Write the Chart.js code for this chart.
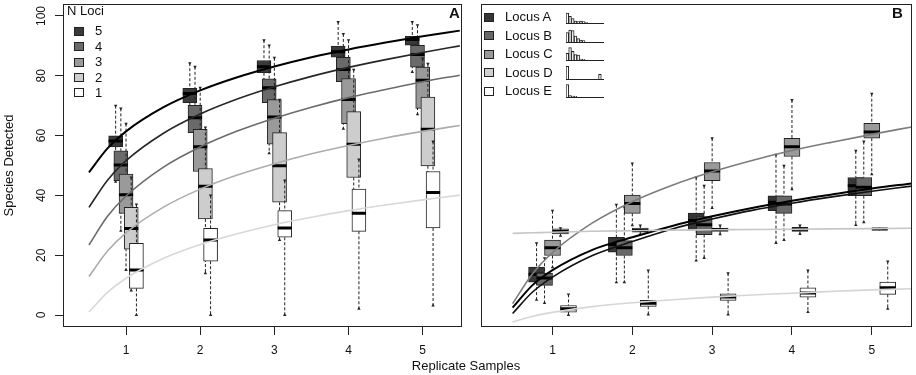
<!DOCTYPE html>
<html>
<head>
<meta charset="utf-8">
<script src="https://cdn.jsdelivr.net/npm/chart.js@4.4.1/dist/chart.umd.min.js"></script>
<style>
  html, body { margin: 0; padding: 0; background: #fff; }
  #wrap { position: relative; width: 916px; height: 375px; overflow: hidden;
          font-family: "Liberation Sans", Arial, Helvetica, sans-serif; color: #111; }
  #wrap canvas { position: absolute; }
  .txt { position: absolute; font-size: 13px; line-height: 14px; white-space: nowrap; }
  .sq { position: absolute; width: 10px; height: 9px; border: 1px solid #222; box-sizing: border-box; }
  .tag { position: absolute; font-size: 15px; font-weight: bold; line-height: 16px; }
</style>
</head>
<body>
<div id="wrap">
  <canvas id="panelA" width="470" height="375" style="left:0;top:0"></canvas>
  <canvas id="panelB" width="446" height="375" style="left:470px;top:0"></canvas>
  <div id="legends"></div>
  <div class="tag" style="left:449px;top:5px">A</div>
  <div class="tag" style="left:892px;top:5px">B</div>
  <div class="txt" style="left:466px;top:359px;transform:translateX(-50%)">Replicate Samples</div>
</div>
<script>
// ---- data ----
const replicates = [1, 2, 3, 4, 5]
const nLoci = ["5", "4", "3", "2", "1"]
const loci = ["Locus A", "Locus B", "Locus C", "Locus D", "Locus E"]

// panel A: one row per N loci (5..1), one value per replicate
const lociMed = [
  [58.2, 74.1, 83.0, 88.0, 92.1],
  [50.2, 66.0, 76.0, 82.1, 87.1],
  [40.2, 56.3, 66.2, 72.1, 78.5],
  [28.9, 43.1, 49.9, 57.1, 62.1],
  [15.1, 25.1, 29.1, 34.0, 41.0],
]
const lociQ1 = [
  [56.2, 71.0, 81.0, 86.2, 90.2],
  [44.9, 61.0, 71.0, 78.0, 82.9],
  [34.0, 48.0, 57.1, 64.0, 69.1],
  [22.0, 32.1, 37.7, 46.0, 49.9],
  [8.9, 18.0, 26.0, 28.0, 29.1],
]
const lociQ3 = [
  [59.9, 75.8, 85.1, 89.9, 93.2],
  [54.9, 70.1, 79.0, 86.2, 90.2],
  [47.1, 62.1, 72.0, 79.1, 82.9],
  [36.0, 49.0, 61.0, 68.0, 72.9],
  [24.0, 29.0, 34.9, 42.1, 48.0],
]
const lociHi = [
  [70.0, 84.2, 91.9, 98.0, 98.0],
  [69.1, 83.0, 90.1, 94.0, 96.9],
  [64.0, 76.0, 86.0, 91.9, 85.8],
  [46.0, 62.7, 72.0, 82.0, 84.0],
  [37.0, 40.0, 45.0, 52.0, 58.0],
]
const lociLo = [
  [44.6, 66.0, 76.0, 82.0, 81.3],
  [28.2, 52.0, 54.1, 62.3, 67.1],
  [15.1, 38.0, 45.0, 48.0, 58.0],
  [8.2, 14.0, 25.1, 30.0, 32.0],
  [0.0, 0.0, 0.0, 2.1, 3.2],
]

// panel B: one row per locus (A..E)
const locusMed = [
  [13.6, 23.6, 31.6, 37.7, 43.2],
  [12.4, 22.5, 30.2, 37.1, 42.7],
  [22.5, 37.3, 48.2, 56.3, 61.2],
  [27.9, 28.3, 28.6, 28.7, 28.8],
  [2.1, 3.9, 6.0, 7.4, 9.1],
]
const locusQ1 = [
  [11.0, 21.0, 28.4, 34.9, 39.9],
  [9.9, 19.9, 26.9, 34.0, 39.9],
  [19.9, 34.0, 44.9, 53.0, 59.1],
  [27.1, 27.7, 28.0, 28.0, 28.8],
  [1.0, 2.9, 4.9, 6.0, 6.9],
]
const locusQ3 = [
  [16.0, 26.0, 34.1, 39.9, 46.0],
  [14.0, 24.9, 32.9, 39.9, 46.0],
  [25.1, 40.1, 51.0, 59.1, 64.1],
  [28.8, 29.1, 29.1, 29.3, 28.8],
  [3.2, 4.9, 7.1, 9.1, 11.0],
]
const locusHi = [
  [24.0, 36.9, 46.0, 53.6, 54.9],
  [19.0, 36.0, 43.2, 49.9, 58.0],
  [34.9, 50.7, 59.1, 71.9, 74.0],
  [29.0, 29.9, 29.9, 29.9, 28.8],
  [6.9, 14.9, 14.0, 14.9, 17.9],
]
const locusLo = [
  [5.1, 11.0, 18.2, 24.1, 30.1],
  [4.0, 11.0, 19.1, 25.1, 31.0],
  [16.0, 30.0, 35.8, 42.1, 47.1],
  [26.5, 27.0, 27.0, 27.1, 28.8],
  [0.0, 0.2, 0.2, 1.0, 2.1],
]

// fitted curves, read at these replicate positions
const curveX = [0.5, 0.75, 1, 1.5, 2, 2.5, 3, 3.5, 4, 4.5, 5, 5.5]
const lociCurve = [
  [47.7, 55.7, 61.4, 69.4, 75.1, 79.5, 83.1, 86.2, 88.8, 91.1, 93.2, 95.1],
  [36.0, 45.1, 51.6, 60.7, 67.2, 72.2, 76.3, 79.8, 82.8, 85.4, 87.8, 90.0],
  [23.4, 33.0, 39.8, 49.4, 56.2, 61.5, 65.8, 69.5, 72.7, 75.4, 78.0, 80.2],
  [12.9, 21.4, 27.5, 36.0, 42.1, 46.8, 50.6, 53.9, 56.7, 59.2, 61.4, 63.4],
  [1.0, 7.6, 12.3, 18.9, 23.6, 27.2, 30.2, 32.7, 34.9, 36.8, 38.5, 40.1],
]
const locusCurve = [
  [2.5, 10.0, 15.0, 21.8, 26.0, 29.8, 33.0, 35.8, 38.2, 40.3, 42.3, 44.0],
  [0.5, 7.7, 12.7, 19.9, 24.6, 28.8, 32.1, 35.0, 37.4, 39.5, 41.4, 43.1],
  [3.8, 13.8, 20.9, 30.8, 37.9, 43.4, 47.9, 51.7, 55.0, 57.8, 60.4, 62.9],
  [27.3, 27.5, 27.7, 28.0, 28.2, 28.4, 28.5, 28.6, 28.7, 28.8, 28.9, 29.0],
  [-2.3, -0.4, 0.9, 2.8, 4.1, 5.1, 6.0, 6.7, 7.3, 7.9, 8.4, 8.8],
]

// little read-count histograms in the panel B legend
const locusHist = [
  [10, 6.7, 4.3, 2, 1.3, 2, 1.3, 0.5, 0, 0, 0, 0, 0, 0],
  [9.3, 12, 11.3, 6, 3.3, 2, 1.3, 0, 0, 0, 0, 0, 0, 0],
  [6.7, 12.3, 8.7, 5.3, 5, 1, 0.7, 0, 0, 0, 0, 0, 0, 0],
  [12.7, 0, 0, 0, 0, 0, 0, 0, 0, 0, 0, 0, 4.7, 0],
  [12.3, 1.3, 1, 0.7, 0, 0, 0, 0, 0, 0, 0, 0, 0, 0],
]
const yTicks = [0, 20, 40, 60, 80, 100]

// ---- styling ----
const FONT = "'Liberation Sans', Arial, Helvetica, sans-serif"
const INK = "#222"
const fillsA = ["#3a3a3a", "#6a6a6a", "#9a9a9a", "#cdcdcd", "#ffffff"]
const curveColA = ["#000000", "#262626", "#6b6b6b", "#adadad", "#d8d8d8"]
const fillsB = ["#363636", "#686868", "#9a9a9a", "#cfcfcf", "#ffffff"]
const curveColB = ["#000000", "#111111", "#7c7c7c", "#c6c6c6", "#d6d6d6"]

const frame = {
  id: "frame",
  afterDraw(chart) {
    const { ctx, chartArea: a } = chart
    ctx.save()
    ctx.strokeStyle = INK
    ctx.lineWidth = 1
    ctx.strokeRect(a.left + 0.5, a.top + 0.5, a.right - a.left - 1, a.bottom - a.top - 1)
    ctx.restore()
  },
}

function boxDatasets(stats, fills, offsets, halfW, barPx) {
  const out = []
  stats.med.forEach((med, g) => {
    const base = 100 - g * 10
    const xs = replicates.map((r) => r + offsets[g])
    const whisk = []
    const medSeg = []
    xs.forEach((x, i) => {
      whisk.push({ x, y: stats.hi[g][i] }, { x, y: stats.q3[g][i] }, { x, y: null },
        { x, y: stats.q1[g][i] }, { x, y: stats.lo[g][i] }, { x, y: null })
      medSeg.push({ x: x - halfW, y: med[i] }, { x: x + halfW, y: med[i] }, { x, y: null })
    })
    out.push({
      type: "line", data: whisk, borderColor: INK, borderWidth: 1, borderDash: [3, 2],
      pointRadius: 0, spanGaps: false, order: base,
    })
    out.push({
      type: "bar", data: xs.map((x, i) => ({ x, y: [stats.q1[g][i], stats.q3[g][i]] })),
      backgroundColor: fills[g], borderColor: INK, borderWidth: 1, borderSkipped: false,
      barThickness: barPx, grouped: false, order: base - 1,
    })
    out.push({
      type: "line", data: medSeg, borderColor: "#000", borderWidth: 3, borderCapStyle: "butt",
      pointRadius: 0, spanGaps: false, order: base - 2,
    })
    out.push({
      type: "line", showLine: false, data: xs.map((x, i) => ({ x, y: stats.hi[g][i] })),
      pointStyle: "triangle", pointRotation: 180, pointRadius: 2, pointBorderWidth: 0,
      pointBackgroundColor: INK, order: base - 3,
    })
    out.push({
      type: "line", showLine: false, data: xs.map((x, i) => ({ x, y: stats.lo[g][i] })),
      pointStyle: "triangle", pointRadius: 2, pointBorderWidth: 0,
      pointBackgroundColor: INK, order: base - 3,
    })
  })
  return out
}

function curveDatasets(curves, colors, widths) {
  return curves.map((c, g) => ({
    type: "line", data: curveX.map((x, i) => ({ x, y: c[i] })),
    borderColor: colors[g], borderWidth: widths[g], pointRadius: 0,
    cubicInterpolationMode: "monotone", order: 5 - g,
  }))
}

function makePanel(id, datasets, xMin, xMax, showY, padding) {
  return new Chart(document.getElementById(id), {
    type: "bar",
    data: { datasets },
    options: {
      responsive: false,
      animation: false,
      layout: { padding },
      plugins: { legend: { display: false }, tooltip: { enabled: false } },
      scales: {
        x: {
          type: "linear", min: xMin, max: xMax, offset: false,
          grid: { drawOnChartArea: false, drawTicks: true, tickLength: 8, color: INK, offset: false },
          border: { display: false },
          ticks: { color: "#111", font: { family: FONT, size: 12 }, padding: 8 },
          afterBuildTicks: (s) => { s.ticks = replicates.map((v) => ({ value: v })) },
          afterFit: (s) => {
            s.height = 48
            s.paddingLeft = 0
            s.paddingRight = 0
          },
        },
        y: {
          type: "linear", min: -4, max: 104, display: showY,
          grid: { drawOnChartArea: false, drawTicks: true, tickLength: 8, color: INK },
          border: { display: false },
          ticks: {
            color: "#111", font: { family: FONT, size: 12 }, padding: 3,
            minRotation: 90, maxRotation: 90, crossAlign: "center",
          },
          title: {
            display: true, text: "Species Detected", color: "#111",
            font: { family: FONT, size: 13 }, padding: { top: 2, bottom: 0 },
          },
          afterBuildTicks: (s) => { s.ticks = yTicks.map((v) => ({ value: v })) },
          afterFit: (s) => {
            s.width = showY ? 63 : 0
            s.paddingTop = 0
            s.paddingBottom = 0
          },
        },
      },
    },
    plugins: [frame],
  })
}

makePanel("panelA", [
  ...boxDatasets({ med: lociMed, q1: lociQ1, q3: lociQ3, hi: lociHi, lo: lociLo },
    fillsA, [-0.14, -0.07, 0, 0.07, 0.14], 0.095, 14),
  ...curveDatasets(lociCurve, curveColA, [2, 1.6, 1.6, 1.6, 1.6]),
], 0.15, 5.53, true, { left: 0, top: 3, right: 8, bottom: 0 })

makePanel("panelB", [
  ...boxDatasets({ med: locusMed, q1: locusQ1, q3: locusQ3, hi: locusHi, lo: locusLo },
    fillsB, [-0.2, -0.1, 0, 0.1, 0.2], 0.1, 16),
  ...curveDatasets(locusCurve, curveColB, [2, 1.6, 1.6, 1.6, 1.6]),
], 0.104, 5.504, false, { left: 11, top: 3, right: 3, bottom: 0 })

// ---- legends ----
const legends = document.getElementById("legends")
function addText(text, left, cy) {
  const d = document.createElement("div")
  d.className = "txt"
  d.textContent = text
  d.style.left = left + "px"
  d.style.top = (cy - 7) + "px"
  legends.appendChild(d)
}
function addSquare(color, left, cy) {
  const d = document.createElement("div")
  d.className = "sq"
  d.style.left = left + "px"
  d.style.top = (cy - 4.5) + "px"
  d.style.background = color
  legends.appendChild(d)
}

addText("N Loci", 67, 11)
const rowsA = [31, 46.5, 62, 77.5, 92.5]
nLoci.forEach((n, i) => {
  addSquare(fillsA[i], 74, rowsA[i])
  addText(n, 95, rowsA[i])
})

const rowsB = [17.3, 35.7, 54, 72.5, 91]
loci.forEach((name, i) => {
  addSquare(fillsB[i], 484, rowsB[i])
  addText(name, 505, rowsB[i])
  const c = document.createElement("canvas")
  c.width = 38
  c.height = 15
  c.style.left = "566px"
  c.style.top = (rowsB[i] + 7 - 15) + "px"
  document.getElementById("wrap").appendChild(c)
  new Chart(c, {
    type: "bar",
    data: {
      labels: locusHist[i].map((_, k) => k),
      datasets: [{
        data: locusHist[i], backgroundColor: "#fff", borderColor: INK, borderWidth: 1,
        barPercentage: 1, categoryPercentage: 1,
      }],
    },
    options: {
      responsive: false,
      animation: false,
      layout: { padding: 0 },
      plugins: { legend: { display: false }, tooltip: { enabled: false } },
      scales: {
        x: {
          grid: { display: false, drawTicks: false }, ticks: { display: false },
          border: { display: true, color: INK, width: 1 },
          afterFit: (s) => { s.height = 1 },
        },
        y: { display: false, min: 0, max: 14 },
      },
    },
  })
})
</script>
</body>
</html>
